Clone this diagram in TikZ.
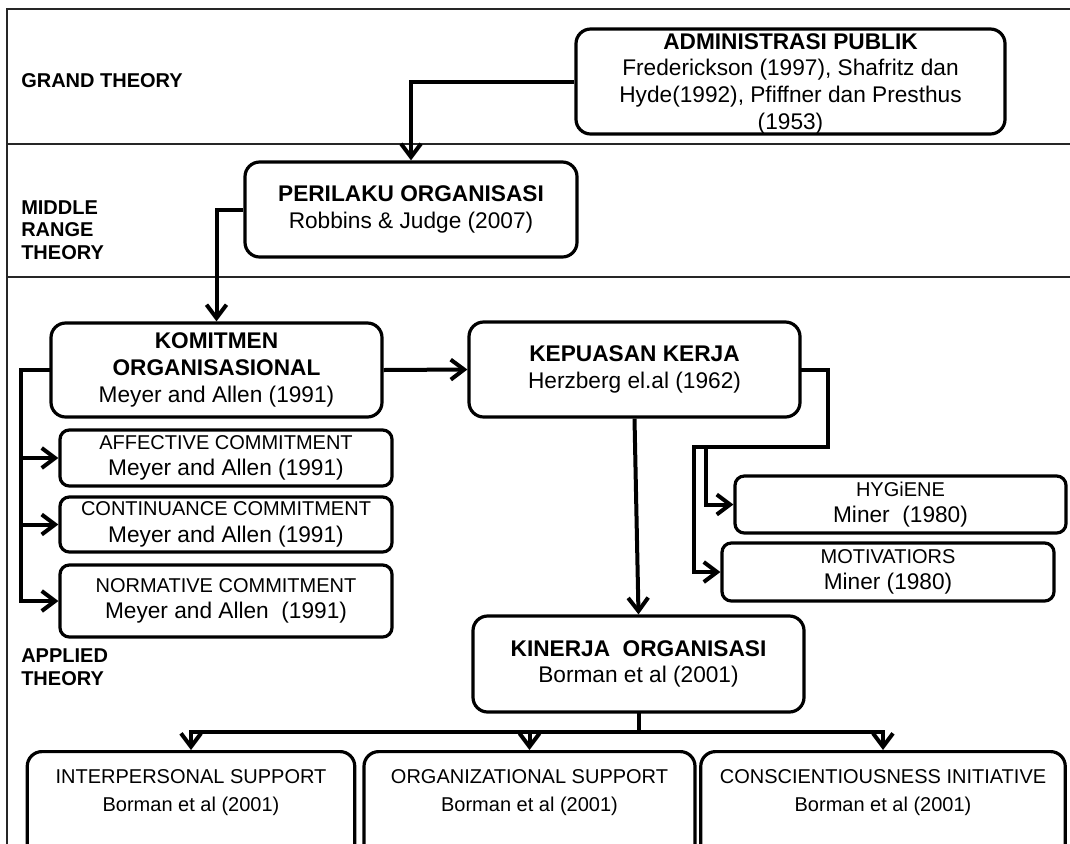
\documentclass[tikz,border=0pt]{standalone}
\usepackage{fontspec}
\setmainfont{Liberation Sans}
\usetikzlibrary{arrows.meta}
\newcommand{\pxu}{0.75pt}
\tikzset{
  bigbox/.style={draw, fill=white, line width=2.4pt, rounded corners=11pt, align=center,
    inner xsep=2pt, inner ysep=0pt, font=\fontsize{17}{20}\selectfont},
  subbox/.style={bigbox, rounded corners=7pt},
  lowbox/.style={bigbox, anchor=north, font=\fontsize{15}{21}\selectfont,
    text height=45pt, text depth=90pt},
  tlabel/.style={anchor=west, align=left, inner sep=0pt, font=\bfseries\fontsize{15}{17}\selectfont},
  link/.style={line width=3pt, line cap=rect},
  arr/.style={line width=3pt, -{Straight Barb[length=10pt, width=15pt]}},
  frame/.style={line width=1.3pt, draw=black!85}
}
\newcommand{\headline}[1]{{\fontsize{15}{20}\selectfont #1}}
\begin{document}
\begin{tikzpicture}[x=\pxu, y=-\pxu]
  \useasboundingbox (0,0) rectangle (1070,843);
  \clip (0,0) rectangle (1070,843);
  % frame and bands
  \draw[frame] (1075,9) -- (7,9) -- (7,850);
  \draw[frame] (7,144) -- (1075,144);
  \draw[frame] (7,277) -- (1075,277);
  \node[tlabel] (grand) at (21,81) {GRAND THEORY};
  \node[tlabel] (middle) at (21,230) {MIDDLE\\RANGE\\THEORY};
  \node[tlabel] (applied) at (21,667) {APPLIED\\THEORY};

  \node[bigbox, minimum width=429*\pxu, text height=75pt, text depth=3.75pt] (admin) at (790.5,81.5)
    {\textbf{ADMINISTRASI PUBLIK}\\Frederickson (1997), Shafritz dan\\Hyde(1992), Pfiffner dan Presthus\\(1953)};
  \node[bigbox, minimum width=332*\pxu, minimum height=95*\pxu] (perilaku) at (411,209.5)
    {\textbf{PERILAKU ORGANISASI}\\Robbins \& Judge (2007)};
  \node[bigbox, minimum width=331*\pxu, minimum height=94*\pxu] (komitmen) at (216.5,370)
    {\textbf{KOMITMEN}\\\textbf{ORGANISASIONAL}\\Meyer and Allen (1991)};
  \node[bigbox, minimum width=331*\pxu, minimum height=95*\pxu] (kepuasan) at (634.5,369.5)
    {\textbf{KEPUASAN KERJA}\\Herzberg el.al (1962)};

  \node[subbox, minimum width=332*\pxu, minimum height=56*\pxu] (affective) at (226,458)
    {\headline{AFFECTIVE COMMITMENT}\\Meyer and Allen (1991)};
  \node[subbox, minimum width=332*\pxu, minimum height=55*\pxu] (continuance) at (226,524.5)
    {\headline{CONTINUANCE COMMITMENT}\\Meyer and Allen (1991)};
  \node[subbox, minimum width=332*\pxu, minimum height=72*\pxu] (normative) at (226,601)
    {\headline{NORMATIVE COMMITMENT}\\Meyer and Allen~ (1991)};

  \node[subbox, minimum width=331*\pxu, minimum height=57*\pxu] (hygiene) at (900.5,504.5)
    {\headline{HYGiENE}\\Miner~ (1980)};
  \node[subbox, minimum width=332*\pxu, minimum height=58*\pxu] (motivators) at (888,572)
    {\headline{MOTIVATIORS}\\Miner (1980)};

  \node[bigbox, minimum width=331*\pxu, minimum height=96*\pxu] (kinerja) at (638.5,664)
    {\textbf{KINERJA~ ORGANISASI}\\Borman et al (2001)};

  \node[lowbox, minimum width=327.5*\pxu] (interpersonal) at (191,750)
    {INTERPERSONAL SUPPORT\\Borman et al (2001)};
  \node[lowbox, minimum width=331*\pxu] (organizational) at (529.5,750)
    {ORGANIZATIONAL SUPPORT\\Borman et al (2001)};
  \node[lowbox, minimum width=364.5*\pxu] (conscientiousness) at (883,750)
    {CONSCIENTIOUSNESS INITIATIVE\\Borman et al (2001)};

  % connectors
  \draw[arr] (admin.west) -| (perilaku.north);
  \draw[arr] (perilaku.west) -| (komitmen.north);
  \draw[arr] (komitmen.east) -- (kepuasan.west);

  \coordinate (lbus) at (21,371);
  \draw[link] (komitmen.west) -| (lbus |- normative.west);
  \foreach \n in {affective,continuance,normative}
    \draw[arr] (lbus |- \n.west) -- (\n.west);

  \coordinate (hturn) at (828,447);
  \coordinate (hleft) at (694,447);
  \coordinate (hmid) at (706,447);
  \draw[link] (kepuasan.east) -| (hturn) -- (hleft);
  \draw[arr] (hmid) |- (hygiene.west);
  \draw[arr] (hleft) |- (motivators.west);

  \draw[arr] (kepuasan.south) -- (kinerja.north);

  \coordinate (tbus) at (638,732);
  \draw[link] (kinerja.south) -- (kinerja.south |- tbus);
  \draw[link] (interpersonal.north |- tbus) -- (conscientiousness.north |- tbus);
  \foreach \n in {interpersonal,organizational,conscientiousness}
    \draw[arr] (\n.north |- tbus) -- (\n.north);
\end{tikzpicture}
\end{document}
